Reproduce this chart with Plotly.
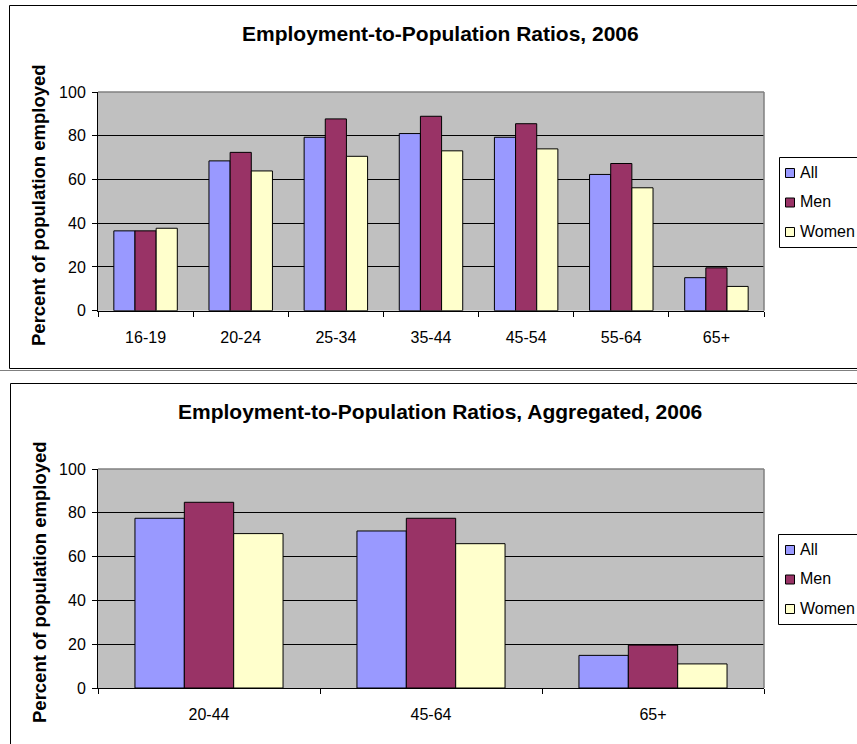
import plotly.graph_objects as go

# ---------------- data ----------------
age_groups = ["16-19", "20-24", "25-34", "35-44", "45-54", "55-64", "65+"]
all_vals = [36.5, 68.5, 79.3, 81.0, 79.3, 62.3, 15.1]
men_vals = [36.5, 72.4, 87.7, 88.9, 85.5, 67.3, 19.6]
women_vals = [37.7, 63.9, 70.6, 73.1, 74.0, 56.2, 11.1]

agg_groups = ["20-44", "45-64", "65+"]
agg_all = [77.5, 71.7, 14.9]
agg_men = [84.8, 77.5, 19.6]
agg_women = [70.5, 65.9, 11.0]

series_names = ["All", "Men", "Women"]
y_ticks = [0, 20, 40, 60, 80, 100]

title_top = "Employment-to-Population Ratios, 2006"
title_bottom = "Employment-to-Population Ratios, Aggregated, 2006"
y_title = "Percent of population employed"

# ---------------- style ----------------
W, H = 857, 744
FONT = "Arial, 'Liberation Sans', sans-serif"
colors = ["#9999FF", "#993366", "#FFFFCC"]


def px_x(x):
    return x / W


def px_y(y):
    return 1 - y / H


fig = go.Figure()

for name, vals, col in zip(series_names, [all_vals, men_vals, women_vals], colors):
    fig.add_trace(go.Bar(
        x=age_groups, y=vals, name=name, xaxis="x", yaxis="y",
        marker=dict(color=col, line=dict(color="black", width=1)),
        showlegend=False,
    ))

for name, vals, col in zip(series_names, [agg_all, agg_men, agg_women], colors):
    fig.add_trace(go.Bar(
        x=agg_groups, y=vals, name=name, xaxis="x2", yaxis="y2",
        marker=dict(color=col, line=dict(color="black", width=1)),
        showlegend=False,
    ))

# plot-area pixel boxes
top_box = dict(x0=98, x1=764, y0=92, y1=310.7)
bot_box = dict(x0=98, x1=764, y0=469, y1=688)

xaxis_common = dict(
    type="category", showline=True, linecolor="black", linewidth=1,
    ticks="outside", tickson="boundaries", ticklen=5, tickcolor="black",
    showgrid=False, zeroline=False, ticklabelstandoff=12,
    tickfont=dict(family=FONT, size=16, color="black"),
)
yaxis_common = dict(
    range=[0, 100], tickvals=y_ticks, showline=True, linecolor="black",
    linewidth=1, ticks="outside", ticklen=5, tickcolor="black",
    showgrid=True, gridcolor="black", gridwidth=1, zeroline=False,
    ticklabelstandoff=3,
    tickfont=dict(family=FONT, size=16, color="black"),
)

fig.update_layout(
    width=W, height=H,
    margin=dict(l=0, r=0, t=0, b=0, autoexpand=False),
    paper_bgcolor="white", plot_bgcolor="#C0C0C0",
    barmode="group", bargap=0.333, bargroupgap=0,
    showlegend=False,
    xaxis=dict(domain=[px_x(top_box["x0"]), px_x(top_box["x1"])], anchor="y", **xaxis_common),
    yaxis=dict(domain=[px_y(top_box["y1"]), px_y(top_box["y0"])], anchor="x", **yaxis_common),
    xaxis2=dict(domain=[px_x(bot_box["x0"]), px_x(bot_box["x1"])], anchor="y2", **xaxis_common),
    yaxis2=dict(domain=[px_y(bot_box["y1"]), px_y(bot_box["y0"])], anchor="x2", **yaxis_common),
)

shapes = []
annotations = []

# outer chart frames
shapes.append(dict(type="rect", xref="paper", yref="paper",
                   x0=px_x(9.5), x1=px_x(W + 20), y0=px_y(368.5), y1=px_y(5.5),
                   line=dict(color="black", width=1), fillcolor="rgba(0,0,0,0)", layer="below"))
shapes.append(dict(type="line", xref="paper", yref="paper",
                   x0=0, x1=1, y0=px_y(370.5), y1=px_y(370.5),
                   line=dict(color="#808080", width=1)))
shapes.append(dict(type="rect", xref="paper", yref="paper",
                   x0=px_x(10.5), x1=px_x(W + 20), y0=px_y(H + 20), y1=px_y(383.5),
                   line=dict(color="black", width=1), fillcolor="rgba(0,0,0,0)", layer="below"))
# gray top/right plot borders
for b in (top_box, bot_box):
    shapes.append(dict(type="line", xref="paper", yref="paper",
                       x0=px_x(b["x0"]), x1=px_x(b["x1"]), y0=px_y(b["y0"]), y1=px_y(b["y0"]),
                       line=dict(color="#808080", width=1.5), layer="above"))
    shapes.append(dict(type="line", xref="paper", yref="paper",
                       x0=px_x(b["x1"]), x1=px_x(b["x1"]), y0=px_y(b["y0"]), y1=px_y(b["y1"]),
                       line=dict(color="#808080", width=1.5), layer="above"))

# legends (Excel-style boxes, cut by the right page edge like the reference)
for box_left, box_top in ((779.5, 157.5), (778.5, 534.5)):
    shapes.append(dict(type="rect", xref="paper", yref="paper",
                       x0=px_x(box_left), x1=px_x(W + 20),
                       y0=px_y(box_top + 90), y1=px_y(box_top),
                       line=dict(color="black", width=1), fillcolor="white", layer="above"))
    for i, (name, col) in enumerate(zip(series_names, colors)):
        cy = box_top + 15.5 + i * 29.5
        cx = 790
        shapes.append(dict(type="rect", xref="paper", yref="paper",
                           x0=px_x(cx - 4.5), x1=px_x(cx + 4.5),
                           y0=px_y(cy + 4.5), y1=px_y(cy - 4.5),
                           line=dict(color="black", width=1), fillcolor=col, layer="above"))
        annotations.append(dict(text=name, x=px_x(799), y=px_y(cy - 1), xref="paper", yref="paper",
                                showarrow=False, xanchor="left", yanchor="middle",
                                borderpad=0,
                                font=dict(family=FONT, size=16, color="black")))

fig.update_layout(shapes=shapes)

annotations += [
    dict(text=f"<b>{title_top}</b>", x=px_x(440.5), y=px_y(34), xref="paper", yref="paper",
         showarrow=False, xanchor="center", yanchor="middle",
         font=dict(family=FONT, size=21, color="black")),
    dict(text=f"<b>{title_bottom}</b>", x=px_x(439.5), y=px_y(411.5), xref="paper", yref="paper",
         showarrow=False, xanchor="center", yanchor="middle",
         font=dict(family=FONT, size=21, color="black")),
    dict(text=f"<b>{y_title}</b>", x=px_x(39), y=px_y(205), xref="paper", yref="paper",
         showarrow=False, xanchor="center", yanchor="middle", textangle=-90,
         font=dict(family=FONT, size=18.5, color="black")),
    dict(text=f"<b>{y_title}</b>", x=px_x(39), y=px_y(582), xref="paper", yref="paper",
         showarrow=False, xanchor="center", yanchor="middle", textangle=-90,
         font=dict(family=FONT, size=18.5, color="black")),
]
fig.update_layout(annotations=annotations)

fig.write_html("out.html")
